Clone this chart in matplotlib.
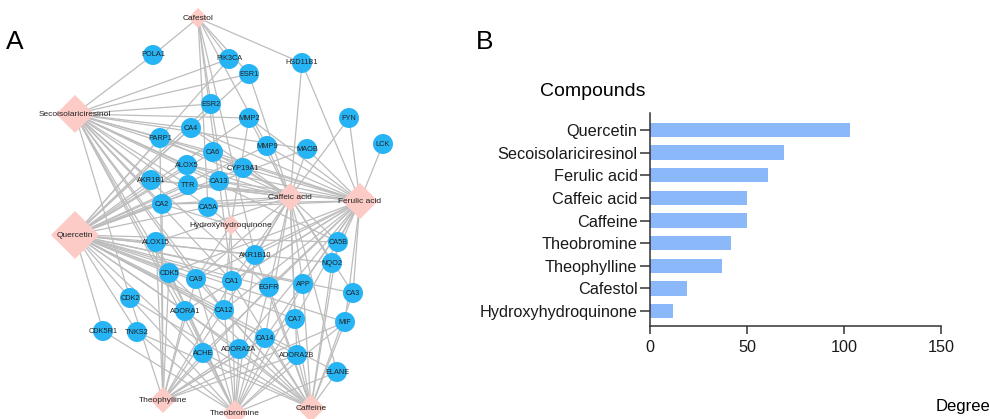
import matplotlib
matplotlib.use("Agg")
import matplotlib.pyplot as plt
from matplotlib.patches import Polygon, Circle

plt.rcParams['font.family'] = ['Liberation Sans', 'DejaVu Sans']

# ---------------- Bar chart data ----------------
compounds = ["Quercetin", "Secoisolariciresinol", "Ferulic acid", "Caffeic acid",
             "Caffeine", "Theobromine", "Theophylline", "Cafestol", "Hydroxyhydroquinone"]
degree = [103, 69, 61, 50, 50, 42, 37, 19, 12]
xticks = [0, 50, 100, 150]

# ---------------- Network data ----------------
# compound nodes: name, x, y (layout in pixel space), half-size
comp_names = ["Cafestol", "Secoisolariciresinol", "Quercetin", "Caffeic acid", "Ferulic acid",
              "Hydroxyhydroquinone", "Theophylline", "Theobromine", "Caffeine"]
comp_x = [198, 75, 75, 290, 360, 231, 163, 235, 311]
comp_y = [18, 114, 235, 197, 201, 225, 400, 413, 408]
comp_half = [10, 19, 24, 14, 18, 10, 13, 13, 14]

target_names = ["POLA1", "PIK3CA", "HSD11B1", "ESR1", "ESR2", "MMP2", "FYN", "CA4", "PARP1",
                "MMP9", "MAOB", "LCK", "CA6", "ALOX5", "CYP19A1", "AKR1B1", "TTR", "CA13",
                "CA2", "CA5A", "ALOX15", "AKR1B10", "CA5B", "NQO2", "CDK5", "CA9", "CA1",
                "EGFR", "APP", "CA3", "CDK2", "ADORA1", "CA12", "CA7", "MIF", "CDK5R1",
                "TNKS2", "CA14", "ACHE", "ADORA2A", "ADORA2B", "ELANE"]
target_x = [153, 229, 302, 249, 211, 249, 349, 191, 160, 267, 307, 383, 213, 187, 243, 151,
            188, 219, 162, 208, 156, 255, 338, 332, 169, 196, 232, 269, 303, 353, 130, 185,
            224, 295, 345, 103, 137, 265, 203, 239, 297, 337]
target_y = [55, 59, 63, 74, 104, 118, 118, 128, 138, 146, 149, 144, 152, 165, 168, 180, 185,
            181, 204, 207, 242, 255, 242, 263, 273, 279, 281, 287, 284, 293, 298, 311, 310,
            319, 322, 331, 332, 338, 353, 349, 355, 372]

edges = {
    "Cafestol": ["POLA1", "PIK3CA", "ESR1", "HSD11B1", "ESR2", "CA5A", "AKR1B10", "MMP9", "CA1"],
    "Secoisolariciresinol": ["POLA1", "PIK3CA", "ESR1", "ESR2", "MMP2", "CA4", "PARP1", "CA6",
                             "ALOX5", "CYP19A1", "AKR1B1", "TTR", "CA13", "CA2", "CA5A", "CA9",
                             "CA1", "ADORA1", "CDK2", "CA12", "ACHE", "MAOB", "CA5B", "EGFR",
                             "CDK5"],
    "Quercetin": ["PARP1", "AKR1B1", "CA2", "ALOX15", "ALOX5", "CDK5", "CDK2", "CDK5R1", "TNKS2",
                  "CA9", "CA1", "EGFR", "APP", "CA3", "CA5B", "NQO2", "ADORA1", "ACHE", "CA12",
                  "ESR2", "ESR1", "PIK3CA", "MMP2", "MMP9", "CYP19A1", "TTR", "CA4", "CA6",
                  "CA13", "CA5A", "AKR1B10", "MAOB", "ADORA2A", "CA14", "CA7", "ELANE", "MIF",
                  "ADORA2B"],
    "Caffeic acid": ["HSD11B1", "MMP2", "MMP9", "MAOB", "FYN", "ESR1", "CA4", "CA6", "ALOX5",
                     "CYP19A1", "TTR", "CA13", "CA2", "CA5A", "CA1", "CA9", "EGFR", "APP", "CA3",
                     "CA7", "CA12", "CA14", "CA5B", "NQO2", "AKR1B10", "ADORA2B", "ELANE",
                     "ALOX15", "AKR1B1", "PARP1"],
    "Ferulic acid": ["LCK", "FYN", "HSD11B1", "MMP2", "MMP9", "MAOB", "CA4", "CA6", "CYP19A1",
                     "CA13", "CA2", "CA5A", "TTR", "CA5B", "NQO2", "CA3", "APP", "EGFR", "CA1",
                     "CA9", "CA12", "CA14", "CA7", "ADORA2A", "ADORA1", "MIF", "ACHE", "AKR1B1",
                     "ALOX5", "PARP1", "AKR1B10", "CDK5"],
    "Hydroxyhydroquinone": ["CA1", "AKR1B10", "CA2", "CA5A", "ESR2", "CA9", "MMP2", "CA12"],
    "Theophylline": ["CDK5", "CDK2", "ADORA1", "ACHE", "ADORA2A", "ADORA2B", "CA2", "CA1",
                     "CA12", "CA14", "CA7", "PARP1", "EGFR", "MIF", "ALOX15", "CA9"],
    "Theobromine": ["CDK5R1", "TNKS2", "ADORA1", "ADORA2A", "ADORA2B", "ACHE", "CA12", "CA1",
                    "CA9", "CA14", "CA7", "AKR1B10", "EGFR", "APP", "CDK2", "ALOX15", "MIF",
                    "ELANE", "CDK5"],
    "Caffeine": ["ADORA1", "ADORA2A", "ADORA2B", "ACHE", "CA14", "CA7", "ELANE", "MIF", "CA3",
                 "NQO2", "CA5B", "APP", "EGFR", "AKR1B10", "CA1", "CA12", "CDK2", "TNKS2",
                 "CA9", "CDK5"],
}

node_blue = "#27B4F5"
node_pink = "#FCCBC6"
edge_grey = "#BDBDBD"
bar_blue = "#8BB8F9"

fig = plt.figure(figsize=(9.9, 4.19), dpi=100)

# ---------------- Network panel ----------------
axn = fig.add_axes([0, 0, 420 / 990, 1])
axn.set_xlim(0, 420)
axn.set_ylim(419, 0)
axn.axis("off")

pos = {}
for n, x, y in zip(comp_names, comp_x, comp_y):
    pos[n] = (x, y)
for n, x, y in zip(target_names, target_x, target_y):
    pos[n] = (x, y)

for c, tl in edges.items():
    x0, y0 = pos[c]
    for t in tl:
        x1, y1 = pos[t]
        axn.plot([x0, x1], [y0, y1], color=edge_grey, lw=0.9, zorder=1, solid_capstyle="round")

for n, x, y in zip(target_names, target_x, target_y):
    axn.add_patch(Circle((x, y), 10, facecolor=node_blue, edgecolor="none", zorder=3))
    axn.text(x, y, n, ha="center", va="center", fontsize=5.3, color="#222222", zorder=5)

for n, x, y, h in zip(comp_names, comp_x, comp_y, comp_half):
    axn.add_patch(Polygon([(x - h, y), (x, y - h), (x + h, y), (x, y + h)], closed=True,
                          facecolor=node_pink, edgecolor="none", zorder=3))
    axn.text(x, y, n, ha="center", va="center", fontsize=6, color="#222222", zorder=5)

fig.text(15 / 990, 1 - 42 / 419, "A", fontsize=19, ha="center", va="center")
fig.text(485 / 990, 1 - 42 / 419, "B", fontsize=19, ha="center", va="center")

# ---------------- Bar panel ----------------
axb = fig.add_axes([650 / 990, (419 - 326) / 419, 291 / 990, (326 - 113) / 419])
ypos = list(range(len(compounds)))
axb.barh(ypos, degree, height=0.63, color=bar_blue, edgecolor="none")
axb.set_yticks(ypos)
axb.set_yticklabels(compounds, fontsize=11.7, color="#1a1a1a")
axb.set_ylim(8.66, -0.75)
axb.set_xlim(0, 150)
axb.set_xticks(xticks)
axb.set_xticklabels([str(v) for v in xticks], fontsize=11.7, color="#1a1a1a")
for s in ["top", "right"]:
    axb.spines[s].set_visible(False)
for s in ["left", "bottom"]:
    axb.spines[s].set_linewidth(1.1)
    axb.spines[s].set_color("#333333")
axb.tick_params(axis="y", length=7, width=1.1, color="#333333", pad=2)
axb.tick_params(axis="x", length=6, width=1.1, color="#333333", pad=4)

fig.text(540 / 990, 1 - 92 / 419, "Compounds", fontsize=14, ha="left", va="center")
fig.text(990 / 990, 1 - 406 / 419, "Degree", fontsize=12, ha="right", va="center")

fig.savefig("out.png", dpi=100)
